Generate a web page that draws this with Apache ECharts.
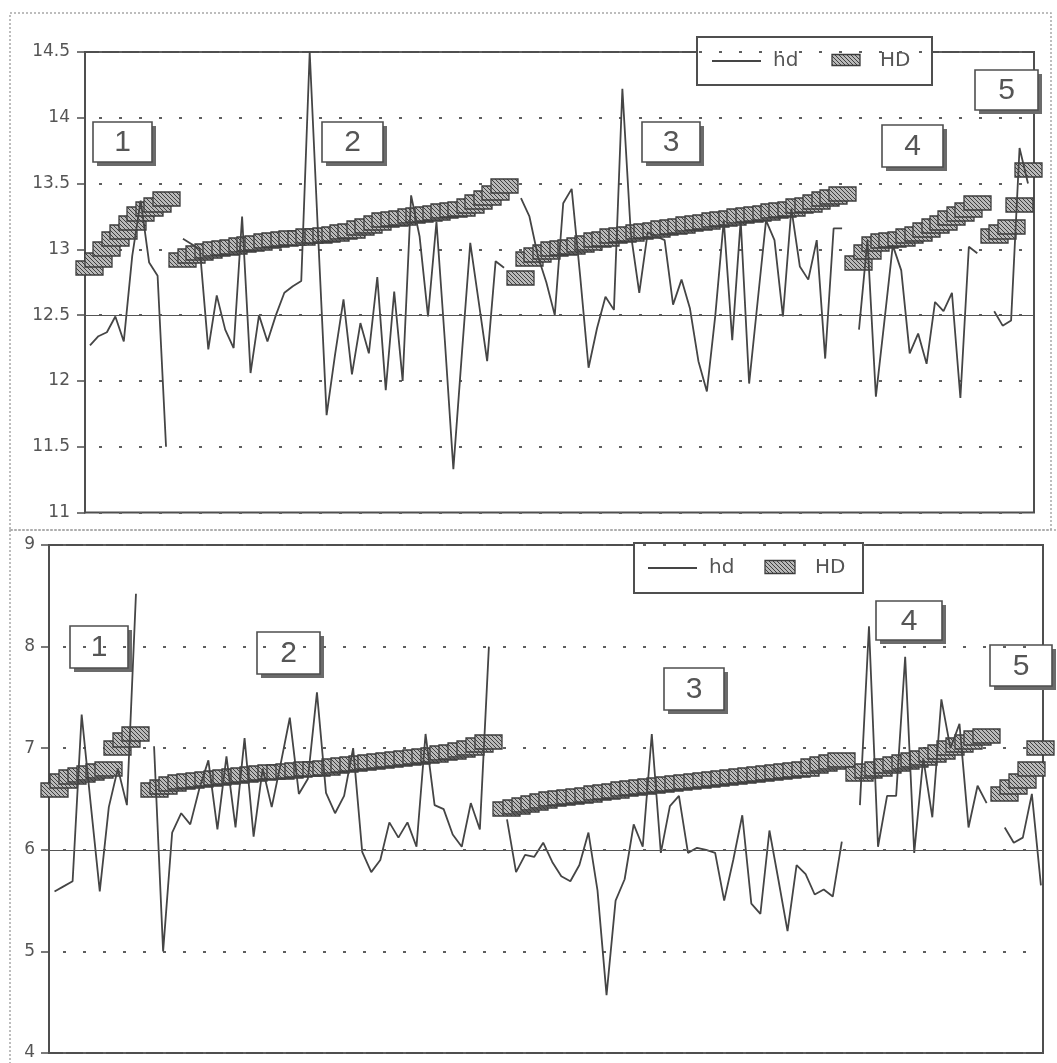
<!DOCTYPE html>
<html>
<head>
<meta charset="utf-8">
<script src="https://cdn.jsdelivr.net/npm/echarts@6/dist/echarts.min.js"></script>
<style>
  html, body { margin: 0; padding: 0; background: #ffffff; }
  #chart { width: 1057px; height: 1063px; }
</style>
</head>
<body>
<div id="chart"></div>
<script>
// ---- Upper panel: hd (line) by group, one value per observation ----
const topHd1 = [12.27, 12.34, 12.37, 12.49, 12.3, 12.95, 13.37, 12.9, 12.8, 11.5];
const topHd2 = [13.08, 13.04, 13.0, 12.24, 12.65, 12.39, 12.25, 13.25, 12.06, 12.5,
                12.3, 12.5, 12.67, 12.72, 12.76, 14.5, 13.1, 11.74, 12.2, 12.62,
                12.05, 12.44, 12.21, 12.79, 11.93, 12.68, 12.0, 13.41, 13.1, 12.49,
                13.21, 12.3, 11.33, 12.2, 13.05, 12.6, 12.15, 12.91, 12.86];
const topHd3 = [13.39, 13.25, 12.95, 12.75, 12.5, 13.35, 13.46, 12.8, 12.1, 12.4,
                12.64, 12.54, 14.22, 13.12, 12.67, 13.13, 13.1, 13.07, 12.58, 12.77,
                12.55, 12.15, 11.92, 12.5, 13.22, 12.31, 13.22, 11.98, 12.6, 13.22,
                13.07, 12.49, 13.31, 12.87, 12.77, 13.07, 12.17, 13.16, 13.16];
const topHd4 = [12.39, 13.07, 11.88, 12.45, 13.03, 12.84, 12.21, 12.36, 12.13, 12.6,
                12.53, 12.67, 11.87, 13.02, 12.97];
const topHd5 = [12.53, 12.42, 12.46, 13.77, 13.5];

// ---- Upper panel: HD (hatched blocks) by group ----
const topHD1 = [12.86, 12.92, 13.0, 13.08, 13.13, 13.2, 13.27, 13.31, 13.34, 13.38];
const topHD2 = [12.92, 12.95, 12.97, 12.99, 13.0, 13.01, 13.02, 13.03, 13.04, 13.05,
                13.06, 13.07, 13.08, 13.09, 13.09, 13.1, 13.1, 13.11, 13.12, 13.13,
                13.14, 13.16, 13.18, 13.2, 13.22, 13.23, 13.24, 13.25, 13.26, 13.27,
                13.28, 13.29, 13.3, 13.31, 13.33, 13.36, 13.39, 13.43, 13.48];
const topHD3 = [12.78, 12.93, 12.96, 12.98, 13.0, 13.01, 13.02, 13.03, 13.05, 13.07,
                13.08, 13.1, 13.11, 13.12, 13.13, 13.14, 13.15, 13.16, 13.17, 13.18,
                13.19, 13.2, 13.21, 13.22, 13.23, 13.24, 13.25, 13.26, 13.27, 13.28,
                13.29, 13.3, 13.31, 13.33, 13.34, 13.36, 13.38, 13.4, 13.42];
const topHD4 = [12.9, 12.98, 13.04, 13.06, 13.07, 13.08, 13.1, 13.12, 13.15, 13.18,
                13.2, 13.24, 13.27, 13.3, 13.35];
const topHD5 = [13.1, 13.13, 13.17, 13.34, 13.6];

// ---- Lower panel: hd (line) by group ----
const botHd1 = [5.59, 5.64, 5.69, 7.33, 6.45, 5.59, 6.42, 6.8, 6.44, 8.52];
const botHd2 = [7.02, 5.0, 6.17, 6.36, 6.25, 6.6, 6.88, 6.2, 6.92, 6.22,
                7.1, 6.13, 6.8, 6.42, 6.85, 7.3, 6.55, 6.7, 7.55, 6.56,
                6.36, 6.53, 7.0, 5.98, 5.78, 5.9, 6.27, 6.12, 6.27, 6.03,
                7.14, 6.44, 6.4, 6.15, 6.03, 6.46, 6.2, 8.0];
const botHd3 = [6.3, 5.78, 5.95, 5.93, 6.07, 5.88, 5.74, 5.69, 5.85, 6.17,
                5.6, 4.57, 5.5, 5.71, 6.25, 6.03, 7.14, 5.97, 6.43, 6.53,
                5.97, 6.02, 6.0, 5.97, 5.5, 5.9, 6.34, 5.47, 5.37, 6.19,
                5.7, 5.2, 5.85, 5.76, 5.56, 5.61, 5.54, 6.08];
const botHd4 = [6.44, 8.2, 6.03, 6.53, 6.53, 7.9, 5.97, 6.9, 6.32, 7.48,
                7.0, 7.24, 6.22, 6.63, 6.46];
const botHd5 = [6.22, 6.07, 6.12, 6.55, 5.65];

// ---- Lower panel: HD (hatched blocks) by group ----
const botHD1 = [6.59, 6.68, 6.72, 6.74, 6.76, 6.78, 6.8, 7.0, 7.08, 7.14];
const botHD2 = [6.59, 6.62, 6.65, 6.67, 6.68, 6.69, 6.7, 6.71, 6.72, 6.73,
                6.74, 6.75, 6.76, 6.77, 6.77, 6.78, 6.79, 6.8, 6.8, 6.81,
                6.82, 6.83, 6.84, 6.85, 6.86, 6.87, 6.88, 6.89, 6.9, 6.91,
                6.92, 6.93, 6.95, 6.96, 6.98, 7.0, 7.03, 7.06];
const botHD3 = [6.4, 6.42, 6.44, 6.46, 6.48, 6.5, 6.51, 6.52, 6.53, 6.54,
                6.56, 6.57, 6.58, 6.6, 6.61, 6.62, 6.63, 6.64, 6.65, 6.66,
                6.67, 6.68, 6.69, 6.7, 6.71, 6.72, 6.73, 6.74, 6.75, 6.76,
                6.77, 6.78, 6.79, 6.8, 6.82, 6.84, 6.86, 6.88];
const botHD4 = [6.75, 6.78, 6.8, 6.82, 6.84, 6.86, 6.88, 6.9, 6.93, 6.96,
                7.0, 7.03, 7.06, 7.1, 7.12];
const botHD5 = [6.55, 6.62, 6.68, 6.8, 7.0];

// Group labels and axis ticks
const groupLabels = ['1', '2', '3', '4', '5'];
const topTicks = { min: 11, max: 14.5, step: 0.5, ref: 12.5 };
const botTicks = { min: 4, max: 9, step: 1, ref: 6 };

// Groups sit side by side with one empty slot between them
function joinGroups(groups) {
  const out = [];
  groups.forEach((g, k) => {
    if (k > 0) out.push(null);
    g.forEach(v => out.push(v));
  });
  return out;
}
const toLine = arr => arr.map((v, i) => [i, v]);
const toBlocks = arr => arr.map((v, i) => (v == null ? null : [i, v])).filter(Boolean);

const topHd = joinGroups([topHd1, topHd2, topHd3, topHd4, topHd5]);
const topHD = joinGroups([topHD1, topHD2, topHD3, topHD4, topHD5]);
const botHd = joinGroups([botHd1, botHd2, botHd3, botHd4, botHd5]);
const botHD = joinGroups([botHD1, botHD2, botHD3, botHD4, botHD5]);

// Diagonal hatch fill for the HD blocks
function hatchCanvas() {
  const c = document.createElement('canvas');
  c.width = 4; c.height = 4;
  const g = c.getContext('2d');
  g.fillStyle = '#b9b9b9';
  g.fillRect(0, 0, 4, 4);
  g.strokeStyle = '#3f3f3f';
  g.lineWidth = 1;
  g.beginPath();
  g.moveTo(0, 0); g.lineTo(4, 4);
  g.moveTo(-2, 2); g.lineTo(2, 6);
  g.moveTo(2, -2); g.lineTo(6, 2);
  g.stroke();
  return c;
}
const hatch = { image: hatchCanvas(), repeat: 'repeat' };

const INK = '#4f4f4f';
const FONT = 'DejaVu Sans';
const BLOCK_W = 27, BLOCK_H = 14;

function yAxisFor(gridIndex, t, margin) {
  return {
    type: 'value', gridIndex, min: t.min, max: t.max, interval: t.step,
    axisLine: { show: true, onZero: false, lineStyle: { color: INK, width: 2 } },
    axisTick: { show: true, length: 8, lineStyle: { color: INK, width: 1.5 } },
    axisLabel: { color: '#555', fontFamily: FONT, fontSize: 17, margin: margin },
    splitLine: { show: true, lineStyle: { color: '#5e5e5e', width: 1.8, type: [3, 17], dashOffset: -14 } }
  };
}
function xAxisFor(gridIndex, min, max) {
  return { type: 'value', gridIndex, min, max, show: false,
           axisLine: { onZero: false }, splitLine: { show: false } };
}
// HD: one hatched block per observation, centred on its value
function blockSeries(idx, data) {
  return {
    type: 'custom', name: 'HD', xAxisIndex: idx, yAxisIndex: idx,
    silent: true, z: 2, clip: false,
    encode: { x: 0, y: 1 },
    data: toBlocks(data),
    renderItem: function (params, api) {
      const p = api.coord([api.value(0), api.value(1)]);
      return {
        type: 'rect',
        shape: { x: Math.round(p[0] - BLOCK_W / 2), y: Math.round(p[1] - BLOCK_H / 2), width: BLOCK_W, height: BLOCK_H },
        style: { fill: hatch, stroke: '#3c3c3c', lineWidth: 1.3 }
      };
    }
  };
}
function lineSeries(idx, data, ref) {
  return {
    type: 'line', name: 'hd', xAxisIndex: idx, yAxisIndex: idx,
    showSymbol: false, symbol: 'none', connectNulls: false, silent: true, z: 3,
    lineStyle: { color: '#454545', width: 1.8 },
    data: toLine(data),
    markLine: {
      silent: true, symbol: ['none', 'none'], label: { show: false },
      lineStyle: { type: 'solid', color: '#555', width: 1.2 },
      data: [{ yAxis: ref }]
    }
  };
}

// Annotation boxes with a drop shadow
function numberBox(x, y, w, h, text) {
  return {
    type: 'group', z: 120, children: [
      { type: 'rect', shape: { x: x + 4, y: y + 4, width: w, height: h }, style: { fill: '#6b6b6b' } },
      { type: 'rect', shape: { x: x, y: y, width: w, height: h }, style: { fill: '#fff', stroke: INK, lineWidth: 1.6 } },
      { type: 'text', x: x + w / 2, y: y + h / 2 + 1,
        style: { text: text, fill: '#555', font: '30px "Liberation Sans"', align: 'center', verticalAlign: 'middle' } }
    ]
  };
}
function legendBox(x, y, w, h, lineX, swX, swW, swH) {
  const cy = y + h / 2;
  return {
    type: 'group', z: 110, children: [
      { type: 'rect', shape: { x, y, width: w, height: h }, style: { fill: '#fff', stroke: INK, lineWidth: 2 } },
      { type: 'line', shape: { x1: lineX, y1: cy, x2: lineX + 49, y2: cy }, style: { stroke: '#454545', lineWidth: 1.8 } },
      { type: 'text', x: lineX + 61, y: cy, style: { text: 'hd', fill: '#555', font: '20px "DejaVu Sans"', verticalAlign: 'middle' } },
      { type: 'rect', shape: { x: swX, y: cy - swH / 2 - 1, width: swW, height: swH }, style: { fill: hatch, stroke: '#3c3c3c', lineWidth: 1.3 } },
      { type: 'text', x: swX + swW + 20, y: cy, style: { text: 'HD', fill: '#555', font: '20px "DejaVu Sans"', verticalAlign: 'middle' } }
    ]
  };
}
function dottedFrame(x, y, w, h) {
  return { type: 'rect', z: 1, shape: { x, y, width: w, height: h },
           style: { fill: null, stroke: '#a8a8a8', lineWidth: 1.5, lineDash: [2, 2] } };
}

const chart = echarts.init(document.getElementById('chart'), null, { renderer: 'canvas' });
chart.setOption({
  animation: false,
  backgroundColor: '#ffffff',
  grid: [
    { left: 85, top: 52, width: 949, height: 460.5, show: true, borderColor: INK, borderWidth: 2, backgroundColor: 'transparent' },
    { left: 49, top: 545, width: 994, height: 508, show: true, borderColor: INK, borderWidth: 2, backgroundColor: 'transparent' }
  ],
  xAxis: [ xAxisFor(0, -0.59, 111.71), xAxisFor(1, -0.61, 109.23) ],
  yAxis: [ yAxisFor(0, topTicks, 15), yAxisFor(1, botTicks, 14) ],
  series: [
    blockSeries(0, topHD), lineSeries(0, topHd, topTicks.ref),
    blockSeries(1, botHD), lineSeries(1, botHd, botTicks.ref)
  ],
  graphic: [
    dottedFrame(10, 13, 1041, 517),
    dottedFrame(10, 530, 1060, 545),
    legendBox(697, 37, 235, 48, 712, 832, 28, 11),
    legendBox(634, 543, 229, 50, 648, 765, 30, 13),
    numberBox(93, 122, 59, 40, groupLabels[0]),
    numberBox(322, 122, 61, 40, groupLabels[1]),
    numberBox(642, 122, 58, 40, groupLabels[2]),
    numberBox(882, 125, 61, 42, groupLabels[3]),
    numberBox(975, 70, 63, 40, groupLabels[4]),
    numberBox(70, 626, 58, 42, groupLabels[0]),
    numberBox(257, 632, 63, 42, groupLabels[1]),
    numberBox(664, 668, 60, 42, groupLabels[2]),
    numberBox(876, 601, 66, 39, groupLabels[3]),
    numberBox(990, 645, 62, 41, groupLabels[4])
  ]
});
</script>
</body>
</html>
